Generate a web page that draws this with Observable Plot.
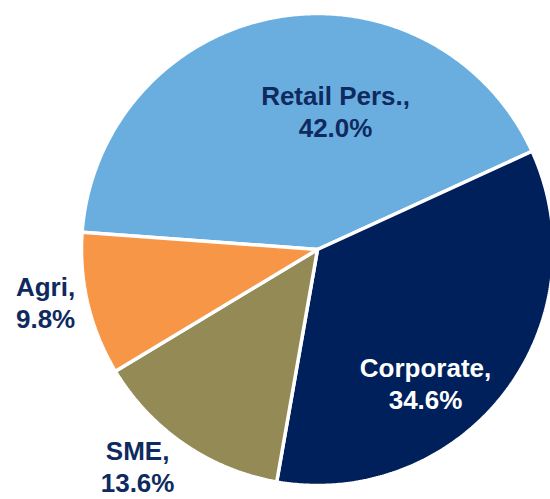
<!DOCTYPE html>
<html><head><meta charset="utf-8">
<script src="https://cdn.jsdelivr.net/npm/d3@7"></script>
<script src="https://cdn.jsdelivr.net/npm/@observablehq/plot@0.6"></script>
<style>body{margin:0;background:#fff;} #chart svg{display:block;}</style>
</head><body><div id="chart"></div>
<script>
// ---- data ----
const categories = ["Retail Pers.", "Corporate", "SME", "Agri"];
const shares = [42.0, 34.6, 13.6, 9.8];
const shareLabels = ["42.0%", "34.6%", "13.6%", "9.8%"];

// ---- styles ----
const sliceColors = ["#6AAEDF", "#00205B", "#948A55", "#F79646"];
const textColors = ["#0E2A5F", "#FFFFFF", "#0E2A5F", "#0E2A5F"];

// ---- layout ----
const W = 550, H = 499, cx = 317, cy = 249, R = 236;
const startDeg = -85.8;                 // clockwise from 12 o'clock
const labelAngles = [7.4, 140.9, 219.8, 259.2];
const labelRadii = [0.594, 0.726, 1.191, 1.173];

const total = d3.sum(shares);
const rad = Math.PI / 180;
const slices = [];
let a = startDeg;
categories.forEach((name, i) => {
  const span = shares[i] / total * 360;
  const a0 = a, a1 = a + span;
  slices.push({name, x: 0, y: 0});
  const n = Math.max(2, Math.ceil(span * 2));
  for (let k = 0; k <= n; k++) {
    const t = (a0 + (a1 - a0) * k / n) * rad;
    slices.push({name, x: Math.sin(t), y: Math.cos(t)});
  }
  slices.push({name, x: 0, y: 0});
  a = a1;
});

const labels = categories.map((name, i) => ({
  name,
  text: name + ",\n" + shareLabels[i],
  color: textColors[i],
  x: labelRadii[i] * Math.sin(labelAngles[i] * rad),
  y: labelRadii[i] * Math.cos(labelAngles[i] * rad)
}));

const chart = Plot.plot({
  width: W, height: H,
  margin: 0,
  x: {domain: [-cx / R, (W - cx) / R], axis: null},
  y: {domain: [(cy - H) / R, cy / R], axis: null},
  color: {domain: categories, range: sliceColors},
  marks: [
    Plot.line(slices, {x: "x", y: "y", z: "name", fill: "name", stroke: "#ffffff", strokeWidth: 3.5, strokeLinejoin: "miter", curve: "linear"}),
    Plot.text(labels, {x: "x", y: "y", text: "text", fill: "color", fontSize: 26, fontWeight: "bold", fontFamily: "'Liberation Sans', Arial, sans-serif", lineHeight: 1.24})
  ],
  style: {background: "#ffffff"}
});
document.getElementById("chart").appendChild(chart);
</script>
</body></html>
